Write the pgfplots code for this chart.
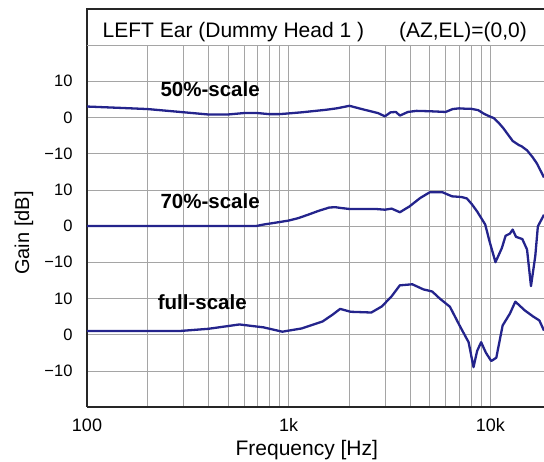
\documentclass[border=0pt]{standalone}
\usepackage{fontspec}
\setmainfont{Liberation Sans}
\usepackage{pgfplots}
\usepackage{pgfplotstable}
\pgfplotsset{compat=1.18}
\definecolor{curve}{RGB}{36,36,140}
\definecolor{gridc}{RGB}{165,165,165}

% panel-local gain in dB; panels are stacked with offsets 0, -30, -60
\pgfplotstableread{
f g
100 3.0
150 2.6
200 2.3
290 1.5
400 0.8
500 0.8
600 1.2
700 1.2
800 0.9
900 0.9
1000 1.1
1160 1.4
1530 2.1
1730 2.5
2000 3.2
2380 2.1
2770 1.2
3000 0.3
3200 1.4
3400 1.5
3560 0.5
3900 1.5
4300 1.8
5000 1.7
6000 1.5
6500 2.3
7000 2.5
7500 2.4
8000 2.4
8700 2.0
9300 1.0
9800 0.4
10400 -0.2
11000 -1.5
11600 -3.0
12900 -6.5
13800 -7.6
14300 -8.0
15200 -9.1
16200 -11.0
17000 -12.7
18450 -16.6
}\half

\pgfplotstableread{
f g
100 0
690 0
750 0.4
880 1.0
1000 1.5
1120 2.2
1260 3.2
1410 4.2
1590 5.1
1700 5.2
1800 5.0
2000 4.7
2700 4.7
3000 4.5
3240 4.8
3560 3.8
3970 5.4
4480 7.7
5000 9.3
5800 9.3
6450 8.2
7200 8.0
7650 7.6
8100 6.0
8600 4.0
9430 0.4
9900 -4.2
10600 -10.0
11400 -6.1
11900 -2.7
12500 -2.1
12900 -1.0
13400 -3.0
14400 -3.6
15200 -6.5
15900 -16.6
16700 -8.3
17200 -0.1
18450 3.1
}\seventy

\pgfplotstableread{
f g
100 1.0
290 1.0
400 1.6
570 2.8
750 2.0
930 0.8
1160 1.7
1470 3.6
1650 5.5
1800 7.1
2030 6.3
2570 6.1
2900 7.8
3240 10.6
3556 13.6
4100 13.9
4650 12.5
5150 11.9
5600 10.0
6300 7.7
7100 2.1
7800 -2.1
8250 -9.0
8600 -4.5
9000 -2.1
9500 -5.0
10100 -7.3
10700 -6.4
11500 2.5
12500 5.8
13300 9.1
14800 6.7
16300 5.0
17500 3.9
18450 1.1
}\full

\begin{document}
\begin{tikzpicture}[x=1pt,y=1pt]
\begin{axis}[
    at={(0,0)}, anchor=south west,
    scale only axis, width=457pt, height=362pt,
    xmode=log, xmin=100, xmax=18450, ymin=-80, ymax=20,
    axis x line*=bottom, axis y line*=left,
    axis line style={-, line width=1.6pt, black!85},
    xtick={100,1000,10000}, xticklabels={100,1k,10k},
    minor xtick={200,300,400,500,600,700,800,900,2000,3000,4000,5000,6000,7000,8000,9000},
    ytick={-70,-60,-50,-40,-30,-20,-10,0,10},
    yticklabels={−10,0,10,−10,0,10,−10,0,10},
    grid=both,
    major grid style={gridc, line width=0.5pt},
    minor grid style={gridc, line width=0.5pt},
    major tick length=0pt, minor tick length=0pt,
    xticklabel style={font=\fontsize{18}{21}\selectfont, anchor=base, yshift=-25pt},
    yticklabel style={font=\fontsize{16.5}{19}\selectfont, anchor=east, xshift=-11pt},
    clip mode=individual,
  ]
  \addplot[curve, line width=2.3pt, line join=round] table[x=f, y=g] {\half};
  \addplot[curve, line width=2.3pt, line join=round] table[x=f, y expr=\thisrow{g}-30] {\seventy};
  \addplot[curve, line width=2.3pt, line join=round] table[x=f, y expr=\thisrow{g}-60] {\full};

  \draw[line width=1.6pt, black!85] (axis cs:100,20) -- (axis cs:100,30) -- (axis cs:18450,30);
  \draw[gridc, line width=0.5pt] (axis cs:100,20) -- (axis cs:18450,20);
  \node[anchor=base west, font=\fontsize{21}{24}\selectfont, inner sep=0pt]
    at (axis cs:119.4,22.2) {LEFT Ear (Dummy Head 1 )};
  \node[anchor=base west, font=\fontsize{21}{24}\selectfont, inner sep=0pt]
    at (axis cs:3516,22.2) {(AZ,EL)=(0,0)};

  \node[anchor=base west, font=\fontsize{20.5}{24}\selectfont\bfseries, inner sep=0pt] at (axis cs:231,5.8) {50\%-scale};
  \node[anchor=base west, font=\fontsize{20.5}{24}\selectfont\bfseries, inner sep=0pt] at (axis cs:231,-25.1) {70\%-scale};
  \node[anchor=base west, font=\fontsize{20.5}{24}\selectfont\bfseries, inner sep=0pt] at (axis cs:224,-53.0) {full-scale};

  \node[anchor=base, font=\fontsize{21}{24}\selectfont, inner sep=0pt] at (axis cs:1230,-80) [yshift=-49pt] {Frequency [Hz]};
\end{axis}
\node[rotate=90, font=\fontsize{20}{23}\selectfont, inner sep=0pt] at (-63,174) {Gain [dB]};
\pgfresetboundingbox
\useasboundingbox (-87,-55) rectangle (457,407);
\end{tikzpicture}
\end{document}
